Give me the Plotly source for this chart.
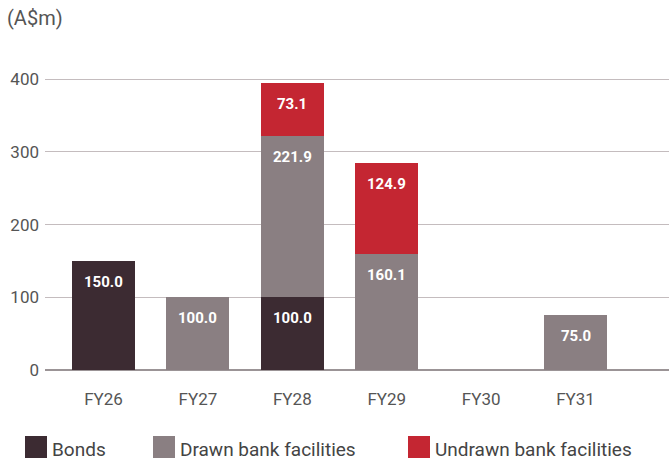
import plotly.graph_objects as go

categories = ["FY26", "FY27", "FY28", "FY29", "FY30", "FY31"]
bonds = [150.0, 0, 100.0, 0, 0, 0]
drawn = [0, 100.0, 221.9, 160.1, 0, 75.0]
undrawn = [0, 0, 73.1, 124.9, 0, 0]
series_names = ["Bonds", "Drawn bank facilities", "Undrawn bank facilities"]
colors = ["#3c2b32", "#8a7f82", "#c42632"]
y_ticks = [0, 100, 200, 300, 400]

W, H = 669, 462
ML, MR, MT, MB = 45, 0, 72, 92
plot_w = W - ML - MR
plot_h = H - MT - MB
y0_px = H - MB  # pixel row of y=0


def px_x(x):
    return (x - ML) / plot_w


def px_y(y):
    return (y0_px - y) / plot_h


label_font = dict(family="Roboto, sans-serif", size=15, color="white", weight="bold")
axis_font = dict(family="Roboto, Open Sans, sans-serif", size=17, color="#555555")

fig = go.Figure()
series = [bonds, drawn, undrawn]
for name, vals, col in zip(series_names, series, colors):
    fig.add_trace(go.Bar(x=categories, y=vals, name=name, marker_color=col,
                         marker_line_width=0, width=0.667, showlegend=False))

# value labels near the top of each segment
for ci, cat in enumerate(categories):
    base = 0
    for vals in series:
        v = vals[ci]
        if v > 0:
            top = base + v
            fig.add_annotation(x=cat, y=top, text=f"{v:.1f}",
                               showarrow=False, yanchor="top", yshift=-10, font=label_font)
            base = top

# custom legend
leg_x = [25, 153, 408]
for name, col, lx in zip(series_names, colors, leg_x):
    fig.add_shape(type="rect", xref="paper", yref="paper",
                  x0=px_x(lx), x1=px_x(lx + 22),
                  y0=px_y(458), y1=px_y(436),
                  fillcolor=col, line_width=0, layer="above")
    fig.add_annotation(xref="paper", yref="paper", x=px_x(lx + 25),
                       y=px_y(449), xanchor="left", yanchor="middle",
                       text=name, showarrow=False,
                       font=dict(family="Roboto, Open Sans, sans-serif", size=19, color="#444444"))

fig.add_annotation(xref="paper", yref="paper", x=px_x(5), y=px_y(18),
                   xanchor="left", yanchor="middle", text="(A$m)", showarrow=False,
                   font=dict(family="Roboto, Open Sans, sans-serif", size=20, color="#555555"))

fig.update_layout(
    barmode="stack",
    width=W, height=H,
    margin=dict(l=ML, r=MR, t=MT, b=MB, autoexpand=False),
    plot_bgcolor="white", paper_bgcolor="white",
    xaxis=dict(range=[-0.62, 5.99], tickfont=axis_font, showgrid=False,
               ticklabelstandoff=17, ticks="", showline=False, zeroline=False),
    yaxis=dict(range=[0, 410], tickvals=y_ticks, tickfont=axis_font,
               gridcolor="#c4bcbe", gridwidth=1, zeroline=True,
               zerolinecolor="#9b9496", zerolinewidth=2,
               ticklabelstandoff=5, showline=False),
    font=axis_font,
)

fig.write_html("out.html", config={"displayModeBar": False},
               post_script="document.body.style.margin='0';")
